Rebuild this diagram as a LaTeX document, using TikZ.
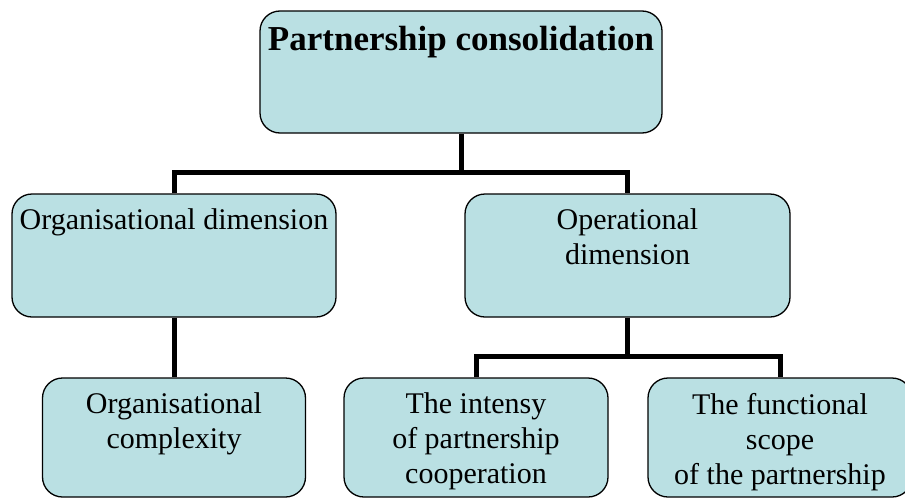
\documentclass[tikz,border=0pt]{standalone}
\usepackage{fontspec}
\setmainfont{Liberation Serif}
\usetikzlibrary{positioning}
\definecolor{boxfill}{RGB}{186,224,227}
\tikzset{
  box/.style={draw, line width=1.3pt, rounded corners=20pt, fill=boxfill, inner sep=0pt},
  txt/.style={inner sep=0pt, align=center, font=\fontsize{30}{35}\selectfont},
  link/.style={line width=5pt, line join=miter}
}
\begin{document}
\begin{tikzpicture}[x=1pt, y=-1pt]
        \useasboundingbox (0,0) rectangle (905,498);

        % Cajas
        \node[box, minimum width=402pt, minimum height=122pt] (top) at (461,72) {};
        \node[box, minimum width=324pt, minimum height=123pt] (orgdim) at (174,255.5) {};
        \node[box, minimum width=325pt, minimum height=123pt] (opdim) at (627.5,255.5) {};
        \node[box, minimum width=263pt, minimum height=119pt] (orgcx) at (174,437.5) {};
        \node[box, minimum width=264pt, minimum height=119pt] (intens) at (476,437.5) {};
        \node[box, minimum width=264pt, minimum height=119pt] (scope) at (780,437.5) {};

        % Textos
        \node[txt, font=\fontsize{35}{42}\selectfont\bfseries, below=16pt of top.north] (topt) {Partnership consolidation};
        \node[txt, below=15.5pt of orgdim.north] (orgdimt) {Organisational dimension};
        \node[txt, below=15.5pt of opdim.north] (opdimt) {Operational\\dimension};
        \node[txt, below=15.5pt of orgcx.north] (orgcxt) {Organisational\\complexity};
        \node[txt, below=15.5pt of intens.north] (intenst) {The intensy\\of partnership\\cooperation};
        \node[txt, below=15.5pt of scope.north] (scopet) {The functional\\scope\\of the partnership};

        % Conectores
        \coordinate (j1) at (461,172);
        \coordinate (j2) at (627.5,356);
        \draw[link] (top.south) -- (j1);
        \draw[link] (orgdim.north) |- (j1) -| (opdim.north);
        \draw[link] (orgdim.south) -- (orgcx.north);
        \draw[link] (opdim.south) -- (j2);
        \draw[link] (intens.north) |- (j2) -| (scope.north);
    \end{tikzpicture}
\end{document}
